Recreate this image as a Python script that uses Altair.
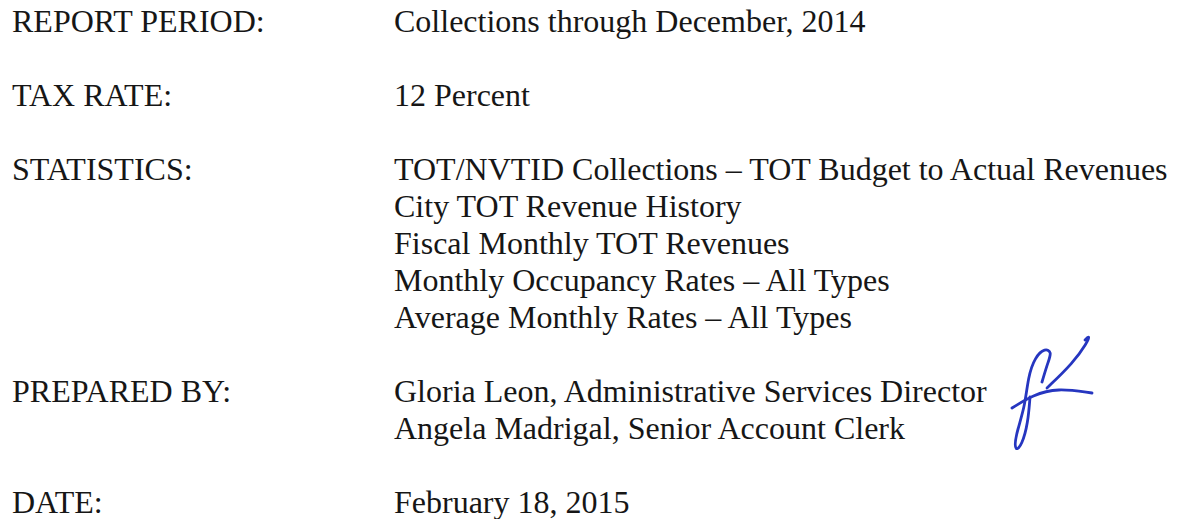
import altair as alt
import pandas as pd

# Document rows: column (0 = label, 1 = value), line number, text
labels = ["REPORT PERIOD:", "TAX RATE:", "STATISTICS:", "PREPARED BY:", "DATE:"]
label_lines = [0, 2, 4, 10, 13]

values = [
    "Collections through December, 2014",
    "12 Percent",
    "TOT/NVTID Collections \u2013 TOT Budget to Actual Revenues",
    "City TOT Revenue History",
    "Fiscal Monthly TOT Revenues",
    "Monthly Occupancy Rates \u2013 All Types",
    "Average Monthly Rates \u2013 All Types",
    "Gloria Leon, Administrative Services Director",
    "Angela Madrigal, Senior Account Clerk",
    "February 18, 2015",
]
value_lines = [0, 2, 4, 5, 6, 7, 8, 10, 11, 13]

# Signature strokes (local sketch units)
sig_stroke = [1] * 12 + [2] * 4 + [3] * 5
sig_order = list(range(12)) + list(range(4)) + list(range(5))
sig_x = [32, 38, 42, 35, 25, 18, 15, 5, 5, 12, 18, 20,
         2, 23, 47, 82,
         37, 63, 77, 80, 75]
sig_y = [52, 32, 22, 18, 27, 47, 77, 107, 122, 115, 93, 67,
         78, 65, 58, 63,
         58, 33, 13, 5, 10]

rows = pd.DataFrame({
    "col": [0] * len(labels) + [1] * len(values),
    "line": label_lines + value_lines,
    "text": labels + values,
})
sig = pd.DataFrame({"stroke": sig_stroke, "order": sig_order, "sx": sig_x, "sy": sig_y})

W, H = 1165, 511

text_layer = alt.Chart(rows).mark_text(
    align="left", baseline="middle", font="Liberation Serif", fontSize=32, color="#161616"
).encode(
    x=alt.X("col:Q", scale=alt.Scale(domain=[0, 1], range=[4, 386]), axis=None),
    y=alt.Y("line:Q", scale=alt.Scale(domain=[0, 13], range=[14, 495]), axis=None),
    text="text:N",
)

sig_layer = alt.Chart(sig).mark_line(
    color="#2636c0", strokeWidth=2.8, strokeCap="round", strokeJoin="round", interpolate="basis"
).encode(
    x=alt.X("sx:Q", scale=alt.Scale(domain=[0, 100], range=[1002, 1102]), axis=None),
    y=alt.Y("sy:Q", scale=alt.Scale(domain=[0, 130], range=[322, 452]), axis=None),
    detail="stroke:N",
    order="order:Q",
)

chart = alt.layer(text_layer, sig_layer).resolve_scale(x="independent", y="independent").properties(
    width=W, height=H, autosize=alt.AutoSizeParams(type="none"), padding=0, background="white"
).configure_view(stroke=None)

chart.save("out.html", embed_options={"renderer": "svg", "actions": False})
